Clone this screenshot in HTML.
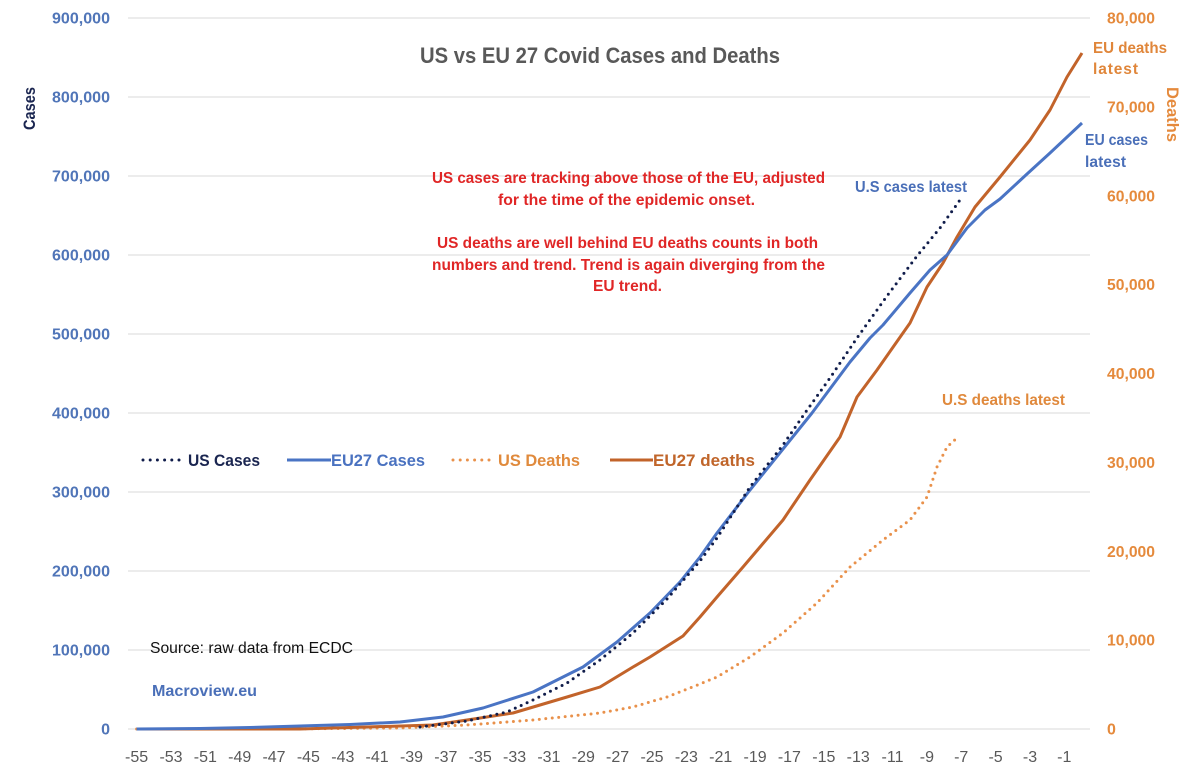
<!DOCTYPE html>
<html>
<head>
<meta charset="utf-8">
<style>
  html,body{margin:0;padding:0;background:#fff;}
  svg{display:block;}
  text{font-family:"Liberation Sans",sans-serif;}
</style>
</head>
<body>
<svg width="1200" height="782" viewBox="0 0 1200 782" xmlns="http://www.w3.org/2000/svg">
  <rect width="1200" height="782" fill="#fff"/>

  <!-- gridlines -->
  <g stroke="#d9d9d9" stroke-width="1">
    <line x1="128" y1="18" x2="1090" y2="18"/>
    <line x1="128" y1="97" x2="1090" y2="97"/>
    <line x1="128" y1="176" x2="1090" y2="176"/>
    <line x1="128" y1="255" x2="1090" y2="255"/>
    <line x1="128" y1="334" x2="1090" y2="334"/>
    <line x1="128" y1="413" x2="1090" y2="413"/>
    <line x1="128" y1="492" x2="1090" y2="492"/>
    <line x1="128" y1="571" x2="1090" y2="571"/>
    <line x1="128" y1="650" x2="1090" y2="650"/>
    <line x1="128" y1="729" x2="1090" y2="729"/>
  </g>

  <!-- title -->
  <text x="420" y="63" font-size="22" font-weight="bold" fill="#595959" textLength="360" lengthAdjust="spacingAndGlyphs">US vs EU 27 Covid Cases and Deaths</text>

  <!-- left axis labels -->
  <g font-size="16" font-weight="bold" fill="#5075b8" text-anchor="end">
    <text x="110" y="23.5" textLength="58" lengthAdjust="spacingAndGlyphs">900,000</text>
    <text x="110" y="102.5" textLength="58" lengthAdjust="spacingAndGlyphs">800,000</text>
    <text x="110" y="181.5" textLength="58" lengthAdjust="spacingAndGlyphs">700,000</text>
    <text x="110" y="260.5" textLength="58" lengthAdjust="spacingAndGlyphs">600,000</text>
    <text x="110" y="339.5" textLength="58" lengthAdjust="spacingAndGlyphs">500,000</text>
    <text x="110" y="418.5" textLength="58" lengthAdjust="spacingAndGlyphs">400,000</text>
    <text x="110" y="497.5" textLength="58" lengthAdjust="spacingAndGlyphs">300,000</text>
    <text x="110" y="576.5" textLength="58" lengthAdjust="spacingAndGlyphs">200,000</text>
    <text x="110" y="655.5" textLength="58" lengthAdjust="spacingAndGlyphs">100,000</text>
    <text x="110" y="734.5">0</text>
  </g>

  <!-- right axis labels -->
  <g font-size="16" font-weight="bold" fill="#e58a3c">
    <text x="1107" y="23.5" textLength="48" lengthAdjust="spacingAndGlyphs">80,000</text>
    <text x="1107" y="112.4" textLength="48" lengthAdjust="spacingAndGlyphs">70,000</text>
    <text x="1107" y="201.3" textLength="48" lengthAdjust="spacingAndGlyphs">60,000</text>
    <text x="1107" y="290.1" textLength="48" lengthAdjust="spacingAndGlyphs">50,000</text>
    <text x="1107" y="379" textLength="48" lengthAdjust="spacingAndGlyphs">40,000</text>
    <text x="1107" y="467.9" textLength="48" lengthAdjust="spacingAndGlyphs">30,000</text>
    <text x="1107" y="556.8" textLength="48" lengthAdjust="spacingAndGlyphs">20,000</text>
    <text x="1107" y="645.6" textLength="48" lengthAdjust="spacingAndGlyphs">10,000</text>
    <text x="1107" y="734.5">0</text>
  </g>

  <!-- axis titles -->
  <text transform="translate(35,108.5) rotate(-90)" text-anchor="middle" font-size="17" font-weight="bold" fill="#1a2550" textLength="43" lengthAdjust="spacingAndGlyphs">Cases</text>
  <text transform="translate(1167,114.5) rotate(90)" text-anchor="middle" font-size="17" font-weight="bold" fill="#e58a3c" textLength="55" lengthAdjust="spacingAndGlyphs">Deaths</text>

  <!-- x axis labels -->
  <g font-size="16" fill="#595959" text-anchor="middle">
    <text x="136.6" y="762">-55</text>
    <text x="171" y="762">-53</text>
    <text x="205.3" y="762">-51</text>
    <text x="239.7" y="762">-49</text>
    <text x="274" y="762">-47</text>
    <text x="308.4" y="762">-45</text>
    <text x="342.8" y="762">-43</text>
    <text x="377.1" y="762">-41</text>
    <text x="411.5" y="762">-39</text>
    <text x="445.8" y="762">-37</text>
    <text x="480.2" y="762">-35</text>
    <text x="514.6" y="762">-33</text>
    <text x="548.9" y="762">-31</text>
    <text x="583.3" y="762">-29</text>
    <text x="617.6" y="762">-27</text>
    <text x="652" y="762">-25</text>
    <text x="686.4" y="762">-23</text>
    <text x="720.7" y="762">-21</text>
    <text x="755.1" y="762">-19</text>
    <text x="789.4" y="762">-17</text>
    <text x="823.8" y="762">-15</text>
    <text x="858.2" y="762">-13</text>
    <text x="892.5" y="762">-11</text>
    <text x="926.9" y="762">-9</text>
    <text x="961.2" y="762">-7</text>
    <text x="995.6" y="762">-5</text>
    <text x="1030" y="762">-3</text>
    <text x="1064.3" y="762">-1</text>
  </g>

  <!-- series -->
  <polyline fill="none" stroke="#e9914b" stroke-width="3" stroke-linecap="round" stroke-dasharray="0 6.5"
    points="136.6,729 300,728.8 400,728 467,725 533,720 600,713 633,707 667,697 700,684 717,677 750,657 783,633 817,603 850,567 883,540 910,520 927,497 937,467 947,447 958,437"/>
  <polyline fill="none" stroke="#c2632a" stroke-width="3" stroke-linejoin="round"
    points="136.6,729 300,729 433,725 467,720 513,713 567,697 600,687 633,667 650,657 683,636 700,617 717,597 743,567 783,520 810,480 840,437 857,397 877,370 910,323 927,287 943,263 957,237 975,207 1000,177 1030,140 1050,110 1067,77 1082,53"/>
  <polyline fill="none" stroke="#4a74c4" stroke-width="3" stroke-linejoin="round"
    points="136.6,729 200,728.5 250,727.5 300,726 350,724.5 400,722 443,717 483,708 533,692 567,675 583,667 617,642 650,613 680,582 700,557 717,533 750,490 783,449 812,413 850,362 870,338 883,325 910,293 930,270 947,255 967,228 985,210 1000,199 1027,174 1050,153 1082,123"/>
  <polyline fill="none" stroke="#101c4a" stroke-width="3" stroke-linecap="round" stroke-dasharray="0 6.5"
    points="420,727 467,721 507,712 533,700 567,683 600,660 633,633 667,599 700,561 717,538 750,487 783,445 805,413 830,378 857,338 887,296 917,256 940,228 960,200"/>

  <!-- annotation -->
  <g font-size="16" font-weight="bold" fill="#e02626" text-anchor="middle">
    <text x="628.5" y="183" textLength="393" lengthAdjust="spacingAndGlyphs">US cases are tracking above those of the EU, adjusted</text>
    <text x="626.5" y="205" textLength="257" lengthAdjust="spacingAndGlyphs">for the time of the epidemic onset.</text>
    <text x="627.5" y="248" textLength="381" lengthAdjust="spacingAndGlyphs">US deaths are well behind EU deaths counts in both</text>
    <text x="628.5" y="270" textLength="393" lengthAdjust="spacingAndGlyphs">numbers and trend. Trend is again diverging from the</text>
    <text x="627.5" y="291" textLength="69" lengthAdjust="spacingAndGlyphs">EU trend.</text>
  </g>

  <!-- series labels -->
  <text x="855" y="192" font-size="16" font-weight="bold" fill="#4a6fb8" textLength="112" lengthAdjust="spacingAndGlyphs">U.S cases latest</text>
  <g font-size="15.5" font-weight="bold">
    <text x="1093" y="53" fill="#e0863a" textLength="74" lengthAdjust="spacingAndGlyphs">EU deaths</text>
    <text x="1093" y="74" fill="#e0863a" textLength="45" lengthAdjust="spacing">latest</text>
    <text x="1085" y="145" fill="#4a6fb8" textLength="63" lengthAdjust="spacingAndGlyphs">EU cases</text>
    <text x="1085" y="167" fill="#4a6fb8" textLength="41" lengthAdjust="spacing">latest</text>
  </g>
  <text x="942" y="405" font-size="16" font-weight="bold" fill="#e0893c" textLength="123" lengthAdjust="spacingAndGlyphs">U.S deaths latest</text>

  <!-- source -->
  <text x="150" y="653" font-size="16" fill="#111" textLength="203" lengthAdjust="spacingAndGlyphs">Source: raw data from ECDC</text>
  <text x="152" y="696" font-size="16" font-weight="bold" fill="#4a6fb8" textLength="105" lengthAdjust="spacingAndGlyphs">Macroview.eu</text>

  <!-- legend -->
  <line x1="143" y1="460" x2="180" y2="460" stroke="#101c4a" stroke-width="3" stroke-linecap="round" stroke-dasharray="0 7.2"/>
  <text x="188" y="466" font-size="17" font-weight="bold" fill="#1a2550" textLength="72" lengthAdjust="spacingAndGlyphs">US Cases</text>
  <line x1="287" y1="460" x2="331" y2="460" stroke="#4a74c4" stroke-width="3"/>
  <text x="331" y="466" font-size="17" font-weight="bold" fill="#4a72c0" textLength="94" lengthAdjust="spacingAndGlyphs">EU27 Cases</text>
  <line x1="453" y1="460" x2="489" y2="460" stroke="#e9914b" stroke-width="3" stroke-linecap="round" stroke-dasharray="0 7.2"/>
  <text x="498" y="466" font-size="17" font-weight="bold" fill="#e08a3c" textLength="82" lengthAdjust="spacingAndGlyphs">US Deaths</text>
  <line x1="610" y1="460" x2="653" y2="460" stroke="#c2632a" stroke-width="3"/>
  <text x="653" y="466" font-size="17" font-weight="bold" fill="#c0652a" textLength="102" lengthAdjust="spacingAndGlyphs">EU27 deaths</text>
</svg>
</body>
</html>
